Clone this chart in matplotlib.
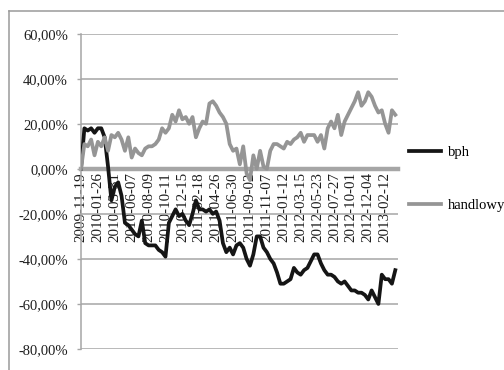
import matplotlib
matplotlib.use("Agg")
import matplotlib.pyplot as plt
import numpy as np
from matplotlib.lines import Line2D
from matplotlib.ticker import FuncFormatter

plt.rcParams['font.family'] = ['Liberation Serif', 'DejaVu Serif']

# Cumulative return (%) since 2009-11-19, one value every 9 trading sessions
bph = [0, 18, 17, 18, 16, 18, 18, 14, 1, -14,
       -8, -6, -12, -24, -25, -27, -29, -30, -23, -33,
       -34, -34, -34, -36, -37, -39, -24, -21, -18, -21,
       -20, -23, -25, -20, -14, -18, -18, -19, -18, -20,
       -19, -23, -33, -37, -35, -38, -34, -33, -35, -40,
       -43, -38, -30, -30, -35, -37, -40, -42, -46, -51,
       -51, -50, -49, -44, -46, -47, -45, -44, -41, -38,
       -38, -42, -45, -47, -47, -48, -50, -51, -50, -52,
       -54, -54, -55, -55, -56, -58, -54, -57, -60, -47,
       -49, -49, -51, -45]

handlowy = [0, 11, 10, 13, 6, 12, 10, 14, 8, 15,
            14, 16, 13, 8, 14, 5, 9, 7, 6, 9,
            10, 10, 11, 13, 18, 16, 18, 24, 21, 26,
            22, 23, 20, 23, 14, 18, 21, 20, 29, 30,
            28, 25, 23, 20, 11, 8, 9, 2, 10, -2,
            -5, 6, 0, 8, 1, 0, 8, 11, 11, 10,
            9, 12, 11, 13, 14, 16, 12, 15, 15, 15,
            12, 15, 9, 18, 21, 18, 24, 15, 21, 24,
            27, 30, 34, 28, 30, 34, 32, 28, 25, 26,
            20, 16, 26, 24]

tick_labels = ['2009-11-19', '2010-01-26', '2010-03-31', '2010-06-07',
               '2010-08-09', '2010-10-11', '2010-12-15', '2011-02-18',
               '2011-04-26', '2011-06-30', '2011-09-02', '2011-11-07',
               '2012-01-12', '2012-03-15', '2012-05-23', '2012-07-27',
               '2012-10-01', '2012-12-04', '2013-02-12']
tick_step = 5  # one label every 5 samples (45 sessions)

series_names = ['bph', 'handlowy']
series_colors = ['#151515', '#959595']

W, H = 504, 370
fig = plt.figure(figsize=(W / 100, H / 100), dpi=100)
ax = fig.add_axes([81 / W, 1 - 349 / H, (398 - 81) / W, (349 - 33.7) / H])

x = np.arange(len(bph))
for vals, name, col in zip([bph, handlowy], series_names, series_colors):
    ax.plot(x, vals, color=col, lw=2.7, label=name, zorder=3,
            solid_joinstyle='round')

# axis frame: x axis crosses at zero
for s in ['top', 'right']:
    ax.spines[s].set_visible(False)
ax.spines['bottom'].set_position(('data', 0))
ax.spines['left'].set_color('#a6a6a6')
ax.spines['left'].set_linewidth(1.1)
ax.spines['bottom'].set_color('#a6a6a6')
ax.spines['bottom'].set_linewidth(3.2)
ax.spines['bottom'].set_zorder(2)

ax.set_xlim(0, len(bph) - 0.2)
ax.set_ylim(-80, 60)
ax.set_yticks(np.arange(-80, 61, 20))
ax.yaxis.set_major_formatter(FuncFormatter(lambda v, p: f"{v:.2f}%".replace('.', ',')))
ax.grid(axis='y', color='#a6a6a6', lw=1.1)
ax.set_axisbelow(True)

ax.set_xticks(np.arange(len(tick_labels)) * tick_step)
ax.set_xticklabels(tick_labels)

ax.tick_params(axis='y', length=3, width=1, color='#a6a6a6', pad=6.5,
               labelsize=10.5, labelcolor='#1e1e1e')
ax.tick_params(axis='x', length=0, pad=2.5, labelsize=10.8, labelcolor='#1e1e1e',
               labelrotation=90)
for lab in ax.get_xticklabels():
    lab.set_va('top')
    lab.set_ha('center')

fig.legend(loc='center left', bbox_to_anchor=(409 / W, 1 - 179 / H),
           frameon=False, borderpad=0, borderaxespad=0, handlelength=2.2,
           handletextpad=0.45, labelspacing=2.75, fontsize=10.5)

# chart border (left and top edges fall inside the canvas)
fx, fy = 9 / W, 1 - 11 / H
fig.lines.append(Line2D([fx, fx], [0, fy], transform=fig.transFigure,
                        color='#9a9a9a', lw=1.1))
fig.lines.append(Line2D([fx, 1], [fy, fy], transform=fig.transFigure,
                        color='#9a9a9a', lw=1.1))

fig.savefig('out.png', dpi=100)
